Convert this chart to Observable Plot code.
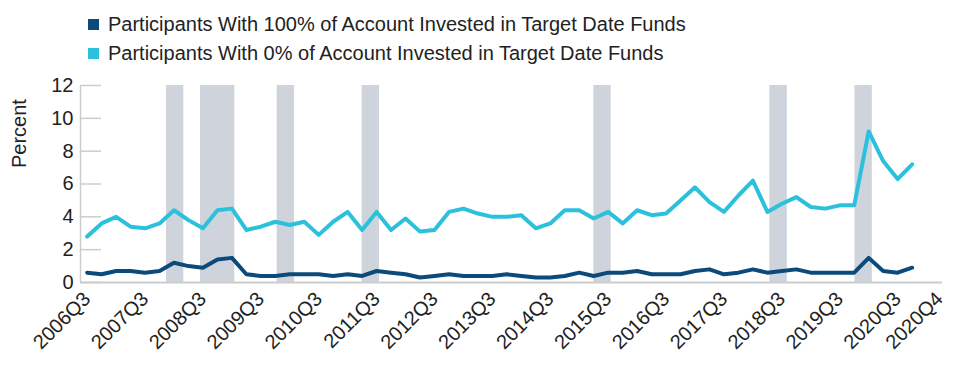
<!DOCTYPE html>
<html>
<head>
<meta charset="utf-8">
<script src="https://cdn.jsdelivr.net/npm/d3@7"></script>
<script src="https://cdn.jsdelivr.net/npm/@observablehq/plot@0.6"></script>
<style>
  html, body { margin: 0; padding: 0; background: #fff; }
  body { width: 960px; height: 366px; overflow: hidden; font-family: "Liberation Sans", Arial, Helvetica, sans-serif; }
  #legend { position: relative; height: 70px; }
  .item { position: absolute; left: 88px; display: flex; align-items: center; font-size: 20px; color: #222; white-space: nowrap; }
  .sw { width: 11px; height: 11px; margin-right: 9px; }
</style>
</head>
<body>
<div id="legend"></div>
<div id="chart"></div>
<script>
// Quarters 2006Q3 .. 2020Q4
const quarters = [];
for (let y = 2006; y <= 2020; y++) for (let q = 1; q <= 4; q++) {
  if (y === 2006 && q < 3) continue;
  quarters.push(`${y}Q${q}`);
}

const seriesNames = [
  "Participants With 100% of Account Invested in Target Date Funds",
  "Participants With 0% of Account Invested in Target Date Funds"
];
const seriesColors = ["#0b4a7a", "#2bc1dd"];

const full100 = [0.6,0.5,0.7,0.7,0.6,0.7,1.2,1.0,0.9,1.4, 1.5,0.5,0.4,0.4,0.5,0.5,0.5,0.4,0.5,0.4,
                 0.7,0.6,0.5,0.3,0.4,0.5,0.4,0.4,0.4,0.5, 0.4,0.3,0.3,0.4,0.6,0.4,0.6,0.6,0.7,0.5,
                 0.5,0.5,0.7,0.8,0.5,0.6,0.8,0.6,0.7,0.8, 0.6,0.6,0.6,0.6,1.5,0.7,0.6,0.9];
const zero0  = [2.8,3.6,4.0,3.4,3.3,3.6,4.4,3.8,3.3,4.4, 4.5,3.2,3.4,3.7,3.5,3.7,2.9,3.7,4.3,3.2,
                4.3,3.2,3.9,3.1,3.2,4.3,4.5,4.2,4.0,4.0, 4.1,3.3,3.6,4.4,4.4,3.9,4.3,3.6,4.4,4.1,
                4.2,5.0,5.8,4.9,4.3,5.3,6.2,4.3,4.8,5.2, 4.6,4.5,4.7,4.7,9.2,7.4,6.3,7.2];

// shaded periods, in quarter-index units (start, end)
const shadeStart = [5.48, 7.83, 13.13, 19.0, 35.01, 47.17, 53.05];
const shadeEnd   = [6.68, 10.20, 14.33, 20.2, 36.21, 48.38, 54.25];

const xTickLabels = ["2006Q3","2007Q3","2008Q3","2009Q3","2010Q3","2011Q3","2012Q3","2013Q3",
                     "2014Q3","2015Q3","2016Q3","2017Q3","2018Q3","2019Q3","2020Q3","2020Q4"];
const xTickPos = [0,4,8,12,16,20,24,28,32,36,40,44,48,52,56,58.9];
const yTicks = [0,2,4,6,8,10,12];
const xDomain = [-0.46, 59.1];

// legend
const legend = document.getElementById("legend");
seriesNames.forEach((name, i) => {
  const d = document.createElement("div");
  d.className = "item";
  d.style.top = (i === 0 ? 13 : 42) + "px";
  d.innerHTML = `<span class="sw" style="background:${seriesColors[i]}"></span><span>${name}</span>`;
  legend.appendChild(d);
});

const rows = quarters.map((q, i) => ({i, q, v: full100[i], s: seriesNames[0]}));
const rows2 = quarters.map((q, i) => ({i, q, v: zero0[i], s: seriesNames[1]}));
const shades = shadeStart.map((s, k) => ({s, e: shadeEnd[k]}));

const chart = Plot.plot({
  width: 960,
  height: 296,
  marginLeft: 80,
  marginRight: 18,
  marginTop: 15,
  marginBottom: 84,
  style: {fontFamily: '"Liberation Sans", Arial, Helvetica, sans-serif', color: "#222", background: "#fff"},
  x: {domain: xDomain},
  y: {domain: [0, 12]},
  marks: [
    Plot.rect(shades, {x1: "s", x2: "e", fill: "#cfd4dc"}),
    Plot.axisY({ticks: yTicks, tickSize: -21, stroke: "#cccccc", strokeWidth: 1.5, tickFormat: () => "", label: null}),
    Plot.axisY({ticks: yTicks, tickSize: 0, tickPadding: 7, fontSize: 20, label: null}),
    Plot.text(["Percent"], {frameAnchor: "left", dx: -61, dy: -16, rotate: -90, fontSize: 20, fill: "#222"}),
    Plot.axisX({ticks: xTickPos, tickFormat: (d) => xTickLabels[xTickPos.indexOf(d)], tickSize: 0, tickRotate: -45, tickPadding: 13, fontSize: 20, label: null}),
    Plot.ruleX([xDomain[0]], {stroke: "#cccccc", strokeWidth: 1.5}),
    Plot.ruleY([0], {stroke: "#cccccc", strokeWidth: 2}),
    Plot.line(rows, {x: "i", y: "v", stroke: seriesColors[0], strokeWidth: 4}),
    Plot.line(rows2, {x: "i", y: "v", stroke: seriesColors[1], strokeWidth: 4})
  ]
});
document.getElementById("chart").appendChild(chart);
</script>
</body>
</html>
